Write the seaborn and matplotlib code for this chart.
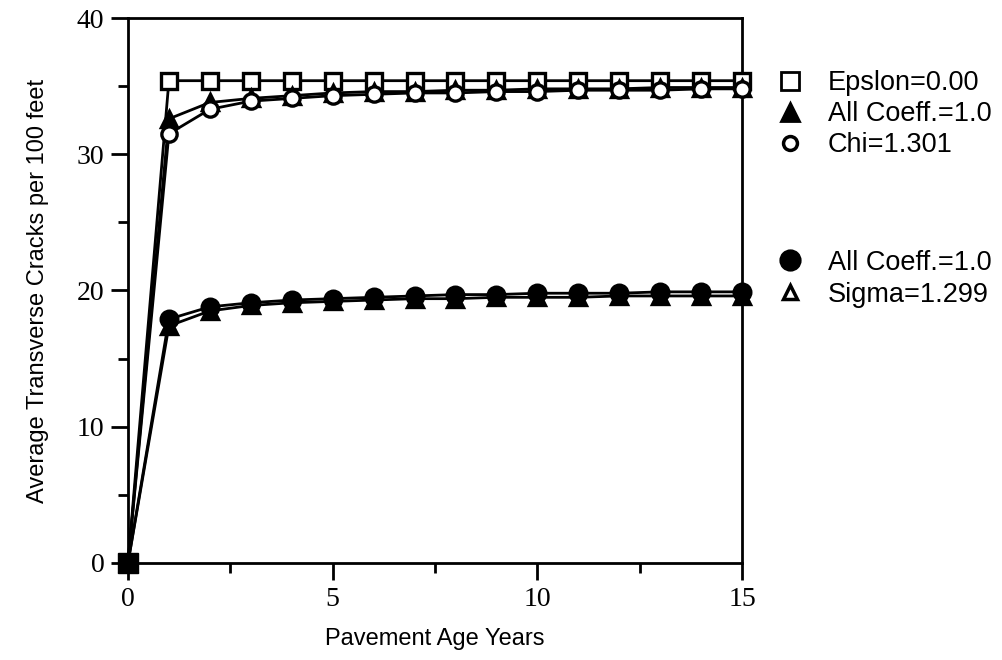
import numpy as np
import pandas as pd
import matplotlib
matplotlib.use("Agg")
import matplotlib.pyplot as plt
from matplotlib.lines import Line2D
from matplotlib.ticker import MultipleLocator
import seaborn as sns

# pavement age (years)
age = [0, 1, 2, 3, 4, 5, 6, 7, 8, 9, 10, 11, 12, 13, 14, 15]

# average transverse cracks per 100 feet
epsilon_0 = [0, 35.4, 35.4, 35.4, 35.4, 35.4, 35.4, 35.4, 35.4, 35.4, 35.4, 35.4, 35.4, 35.4, 35.4, 35.4]
all_coeff_hi = [0, 32.6, 33.8, 34.1, 34.3, 34.5, 34.6, 34.6, 34.7, 34.7, 34.8, 34.8, 34.8, 34.9, 34.9, 34.9]
chi_1301 = [0, 31.5, 33.3, 33.9, 34.1, 34.3, 34.4, 34.5, 34.5, 34.6, 34.6, 34.7, 34.7, 34.7, 34.8, 34.8]
all_coeff_lo = [0, 17.9, 18.8, 19.1, 19.3, 19.4, 19.5, 19.6, 19.7, 19.7, 19.8, 19.8, 19.8, 19.9, 19.9, 19.9]
sigma_1299 = [0, 17.4, 18.5, 18.9, 19.1, 19.2, 19.3, 19.4, 19.4, 19.5, 19.5, 19.5, 19.6, 19.6, 19.6, 19.6]

labels_top = ["Epslon=0.00", "All Coeff.=1.0", "Chi=1.301"]
labels_bottom = ["All Coeff.=1.0", "Sigma=1.299"]

sns.set_style("ticks")
plt.rcParams['font.family'] = ['Liberation Sans', 'DejaVu Sans']
plt.rcParams['text.color'] = 'black'
plt.rcParams['axes.labelcolor'] = 'black'
plt.rcParams['xtick.color'] = 'black'
plt.rcParams['ytick.color'] = 'black'

fig = plt.figure(figsize=(10.03, 6.6), dpi=100)
ax = fig.add_axes([0.1276, 0.147, 0.6122, 0.8257])

series = [
    (epsilon_0, dict(marker='s', mfc='white', ms=12)),
    (all_coeff_hi, dict(marker='^', mfc='black', ms=11.5)),
    (chi_1301, dict(marker='o', mfc='white', ms=11)),
    (all_coeff_lo, dict(marker='o', mfc='black', ms=12)),
    (sigma_1299, dict(marker='^', mfc='black', ms=11.5)),
]
for values, style in series:
    df = pd.DataFrame({"age": age, "cracks": values})
    sns.lineplot(data=df, x="age", y="cracks", ax=ax, color='black', lw=2.0,
                 marker=style['marker'], markersize=style['ms'],
                 markerfacecolor=style['mfc'], markeredgecolor='black',
                 markeredgewidth=2.4, clip_on=False, zorder=3)

# origin point appears as a solid black square
ax.plot(age[0], epsilon_0[0], marker='s', ms=14, color='black',
        clip_on=False, zorder=5)

ax.set_xlim(0, 15)
ax.set_ylim(0, 40)
ax.xaxis.set_major_locator(MultipleLocator(5))
ax.xaxis.set_minor_locator(MultipleLocator(2.5))
ax.yaxis.set_major_locator(MultipleLocator(10))
ax.yaxis.set_minor_locator(MultipleLocator(5))
for side in ['top', 'right', 'left', 'bottom']:
    ax.spines[side].set_visible(True)
    ax.spines[side].set_linewidth(2.0)
    ax.spines[side].set_color('black')
ax.tick_params(which='major', direction='out', length=12, width=2.0,
               labelsize=20, color='black', pad=5)
ax.tick_params(which='minor', direction='out', length=7, width=2.0, color='black')
for lab in ax.get_xticklabels() + ax.get_yticklabels():
    lab.set_family(['Liberation Serif', 'DejaVu Serif'])

ax.set_xlabel("Pavement Age Years", fontsize=17, labelpad=12)
ax.set_ylabel("Average Transverse Cracks per 100 feet", fontsize=17, labelpad=20)

# legends outside the axes, in two groups
h_top = [
    Line2D([], [], ls='none', marker='s', ms=13, mfc='white', mec='black', mew=2),
    Line2D([], [], ls='none', marker='^', ms=13, mfc='black', mec='black', mew=2),
    Line2D([], [], ls='none', marker='o', ms=10, mfc='white', mec='black', mew=2.5),
]
h_bottom = [
    Line2D([], [], ls='none', marker='o', ms=14, mfc='black', mec='black', mew=2),
    Line2D([], [], ls='none', marker='^', ms=10, mfc='white', mec='black', mew=2.5),
]
leg1 = fig.legend(h_top, labels_top, loc='upper left', bbox_to_anchor=(0.763, 0.91),
                  frameon=False, fontsize=19.5, handletextpad=0.9, labelspacing=0.18,
                  handlelength=1.0, borderaxespad=0, labelcolor='black')
leg2 = fig.legend(h_bottom, labels_bottom, loc='upper left', bbox_to_anchor=(0.763, 0.638),
                  frameon=False, fontsize=19.5, handletextpad=0.9, labelspacing=0.22,
                  handlelength=1.0, borderaxespad=0, labelcolor='black')

fig.savefig("out.png", dpi=100)
